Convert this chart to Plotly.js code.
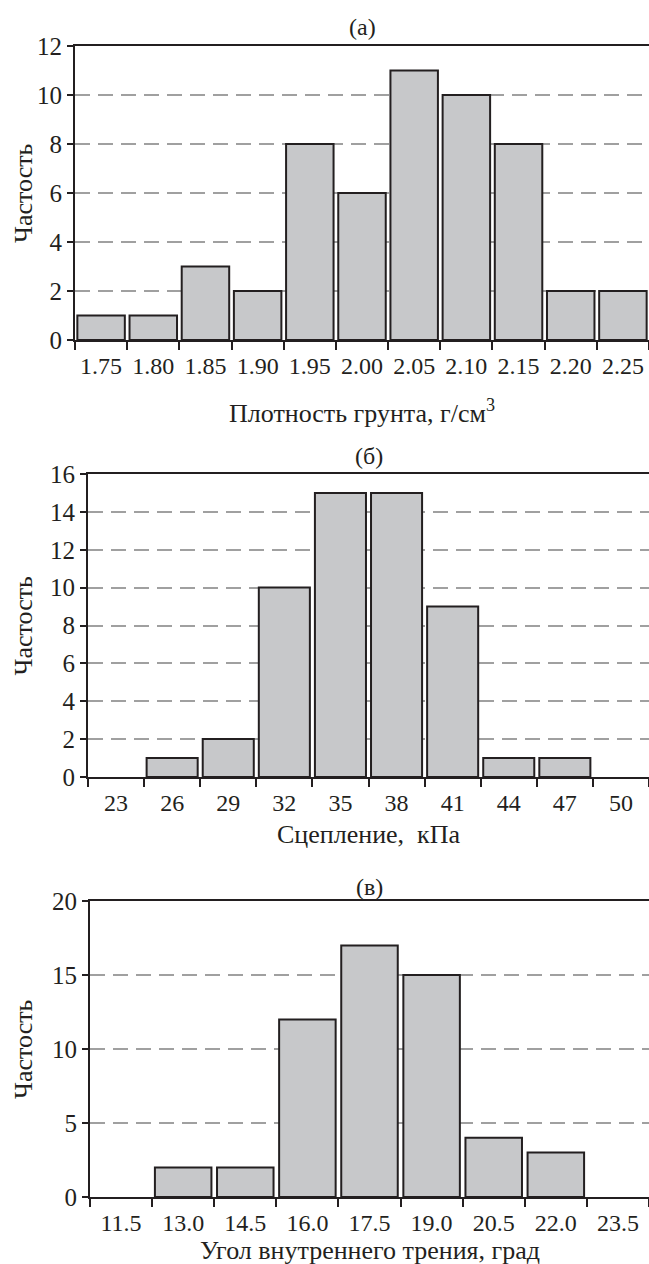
<!DOCTYPE html>
<html>
<head>
<meta charset="utf-8">
<script src="https://cdn.plot.ly/plotly-3.0.1.min.js"></script>
<style>html,body{margin:0;padding:0;background:#fff;}#chart{width:649px;height:1264px;}</style>
</head>
<body>
<div id="chart"></div>
<script>
// ---- data ----
const densityBins = ['1.75','1.80','1.85','1.90','1.95','2.00','2.05','2.10','2.15','2.20','2.25'];
const densityCounts = [1, 1, 3, 2, 8, 6, 11, 10, 8, 2, 2];

const cohesionBins = ['23','26','29','32','35','38','41','44','47','50'];
const cohesionCounts = [0, 1, 2, 10, 15, 15, 9, 1, 1, 0];

const frictionBins = ['11.5','13.0','14.5','16.0','17.5','19.0','20.5','22.0','23.5'];
const frictionCounts = [0, 2, 2, 12, 17, 15, 4, 3, 0];

const panelTitles = ['(а)', '(б)', '(в)'];
const xTitles = ['Плотность грунта, г/см<sup>3</sup>', 'Сцепление,\u00a0 кПа', 'Угол внутреннего трения, град'];
const yTitle = 'Частость';

// ---- layout helpers ----
const W = 649, H = 1264;
const px = x => x / W;
const py = y => 1 - y / H;
const FONT = 'Liberation Serif, Times New Roman, serif';
const INK = '#231f20';
const BAR = '#c7c8ca';

const panels = [
  {x0: 75, y0: 46, y1: 340, max: 12, dt: 2, tY: 27, xtY: 411},
  {x0: 88, y0: 474, y1: 777, max: 16, dt: 2, tY: 456, xtY: 834},
  {x0: 90, y0: 901, y1: 1197, max: 20, dt: 5, tY: 887, xtY: 1250}
];

const cats = [densityBins, cohesionBins, frictionBins];
const vals = [densityCounts, cohesionCounts, frictionCounts];

const traces = [];
const layout = {
  width: W, height: H,
  margin: {l: 0, r: 0, t: 0, b: 0},
  paper_bgcolor: '#fff', plot_bgcolor: 'rgba(0,0,0,0)',
  showlegend: false,
  bargap: 0.09,
  font: {family: FONT, size: 24, color: INK},
  annotations: []
};

panels.forEach((p, i) => {
  const sfx = i === 0 ? '' : String(i + 1);
  traces.push({
    type: 'bar',
    x: cats[i], y: vals[i],
    xaxis: 'x' + sfx, yaxis: 'y' + sfx,
    marker: {color: BAR, line: {color: INK, width: vals[i].map(v => v > 0 ? 2 : 0)}},
    hoverinfo: 'skip'
  });
  layout['xaxis' + sfx] = {
    type: 'category',
    domain: [px(p.x0), 1],
    anchor: 'y' + sfx,
    tickson: 'boundaries',
    tickangle: 0,
    ticks: 'outside', ticklen: 8, tickwidth: 2, tickcolor: INK,
    ticklabelstandoff: 3,
    showline: true, linecolor: INK, linewidth: 2, mirror: true,
    showgrid: false, zeroline: false,
    tickfont: {family: FONT, size: 24, color: INK},
    automargin: false, fixedrange: true
  };
  layout['yaxis' + sfx] = {
    domain: [py(p.y1), py(p.y0)],
    anchor: 'x' + sfx,
    range: [0, p.max], dtick: p.dt, tick0: 0,
    ticks: 'outside', ticklen: 6, tickwidth: 2, tickcolor: INK,
    showline: true, linecolor: INK, linewidth: 2,
    showgrid: true, gridcolor: '#a0a0a0', gridwidth: 2, griddash: '15px,8px',
    zeroline: false,
    tickfont: {family: FONT, size: 25, color: INK},
    automargin: false, fixedrange: true
  };
  const cx = (p.x0 + W) / 2;
  layout.annotations.push(
    {text: panelTitles[i], xref: 'paper', yref: 'paper', x: px(cx), y: py(p.tY),
     xanchor: 'center', yanchor: 'middle', showarrow: false, font: {family: FONT, size: 24, color: INK}},
    {text: xTitles[i], xref: 'paper', yref: 'paper', x: px(cx), y: py(p.xtY),
     xanchor: 'center', yanchor: 'middle', showarrow: false, font: {family: FONT, size: 26, color: INK}},
    {text: yTitle, xref: 'paper', yref: 'paper', x: px(23), y: py((p.y0 + p.y1) / 2),
     xanchor: 'center', yanchor: 'middle', textangle: -90, showarrow: false, font: {family: FONT, size: 26, color: INK}}
  );
});

Plotly.newPlot('chart', traces, layout, {staticPlot: true, displayModeBar: false});
</script>
</body>
</html>
